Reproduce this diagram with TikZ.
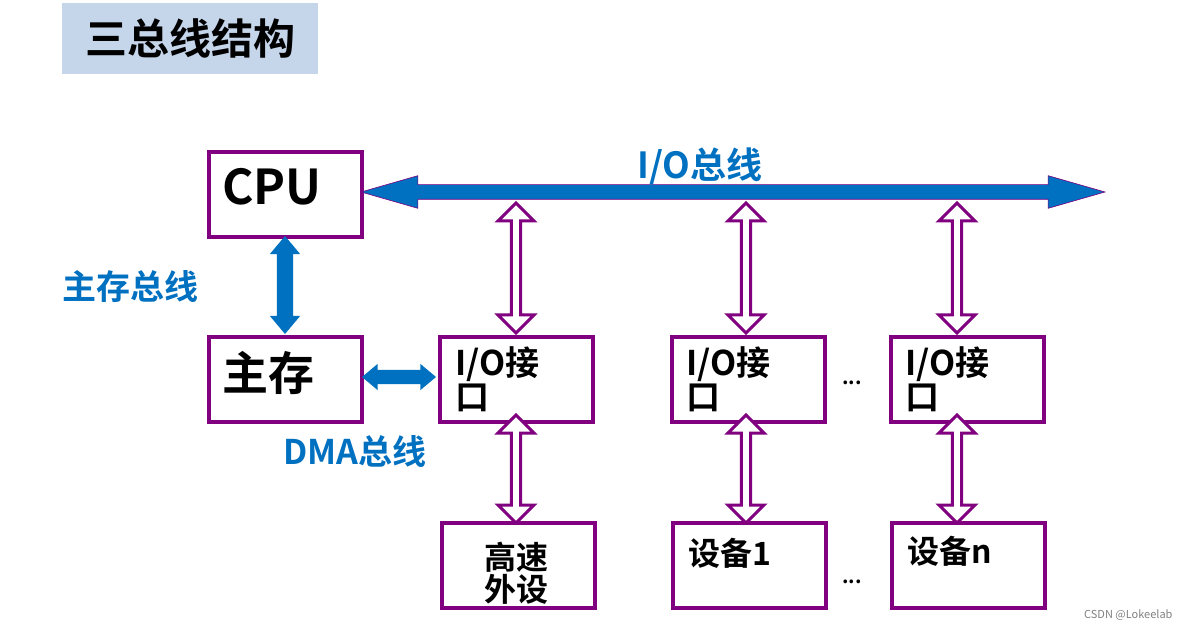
\documentclass[tikz,border=0pt]{standalone}
\usepackage{fontspec}
\setmainfont{Noto Sans CJK SC}[BoldFont={Noto Sans CJK SC Bold}]
\usetikzlibrary{shapes.arrows}
\definecolor{busblue}{HTML}{0070C0}
\definecolor{boxpurple}{HTML}{800080}
\definecolor{titlebg}{HTML}{C5D5EA}
\tikzset{
  unit/.style={draw=boxpurple, line width=4pt, minimum width=153pt, minimum height=85pt},
  txt/.style={font=\bfseries\fontsize{#1}{#1}\selectfont, inner sep=0pt, align=left},
  lab/.style={txt=#1, text=busblue},
  hollow/.style={double arrow, draw=boxpurple, line width=3pt, fill=white, rotate=90,
    minimum width=36pt, double arrow head extend=6pt, minimum height=#1, inner sep=0pt,
    shape border uses incircle},
  solid/.style={double arrow, fill=busblue, inner xsep=0pt, inner ysep=#1}
}
\begin{document}
\begin{tikzpicture}[x=1pt,y=-1pt]
\useasboundingbox (0,0) rectangle (1180,628);
% title
\node[fill=titlebg, minimum width=256pt, minimum height=71pt, anchor=north west] (title) at (62,3) {};
\node[txt=42pt] at (title) {三总线结构};
% units
\node[unit, anchor=north west] (cpu) at (207,150) {};
\node[unit, anchor=north west] (mem) at (207,335) {};
\node[unit, anchor=north west] (io1) at (438,335) {};
\node[unit, anchor=north west] (io2) at (670,335) {};
\node[unit, anchor=north west] (io3) at (889,335) {};
\node[unit, anchor=north west] (dev1) at (440,521) {};
\node[unit, anchor=north west] (dev2) at (671,521) {};
\node[unit, anchor=north west] (dev3) at (890,521) {};
% texts
\node[txt=48pt, anchor=west] at (222,187) {CPU};
\node[txt=46pt, anchor=west] at (222,373) {主存};
\foreach \u/\x in {io1/455,io2/686,io3/905}
  \node[txt=34pt, anchor=north west] at (\x,346) {I/O接\\口};
\node[txt=32pt, align=center] at (516,573) {高速\\外设};
\node[txt=32pt, anchor=west] at (688,553) {设备1};
\node[txt=32pt, anchor=west] at (907,551) {设备n};
\node[txt=20pt] (dots1) at (852,383) {...};
\node[txt=20pt] (dots2) at (852,582) {...};
% buses
\node[solid=7pt, minimum height=744pt, double arrow head extend=9pt, double arrow tip angle=32,
  draw=boxpurple, line width=0.6pt] (bus) at (733,192) {};
\node[lab=36pt] at (700,166) {I/O总线};
\node[solid=8pt, minimum height=98pt, rotate=90, double arrow head extend=7pt, double arrow tip angle=80] (mbus) at (285,285) {};
\node[lab=34pt] at (130,287) {主存总线};
\node[solid=7pt, minimum height=74pt, double arrow head extend=6pt, double arrow tip angle=80] (dbus) at (399,377) {};
\node[lab=34pt] at (355,452) {DMA总线};
% interfaces
\foreach \x in {516,746,957}{
  \node[hollow=130pt] at (\x,268) {};
  \node[hollow=108pt] at (\x,469) {};
}
\node[font=\fontsize{11pt}{11pt}\selectfont, text=gray, anchor=south east] (mark) at (1176,624) {CSDN @Lokeelab};
\end{tikzpicture}
\end{document}
